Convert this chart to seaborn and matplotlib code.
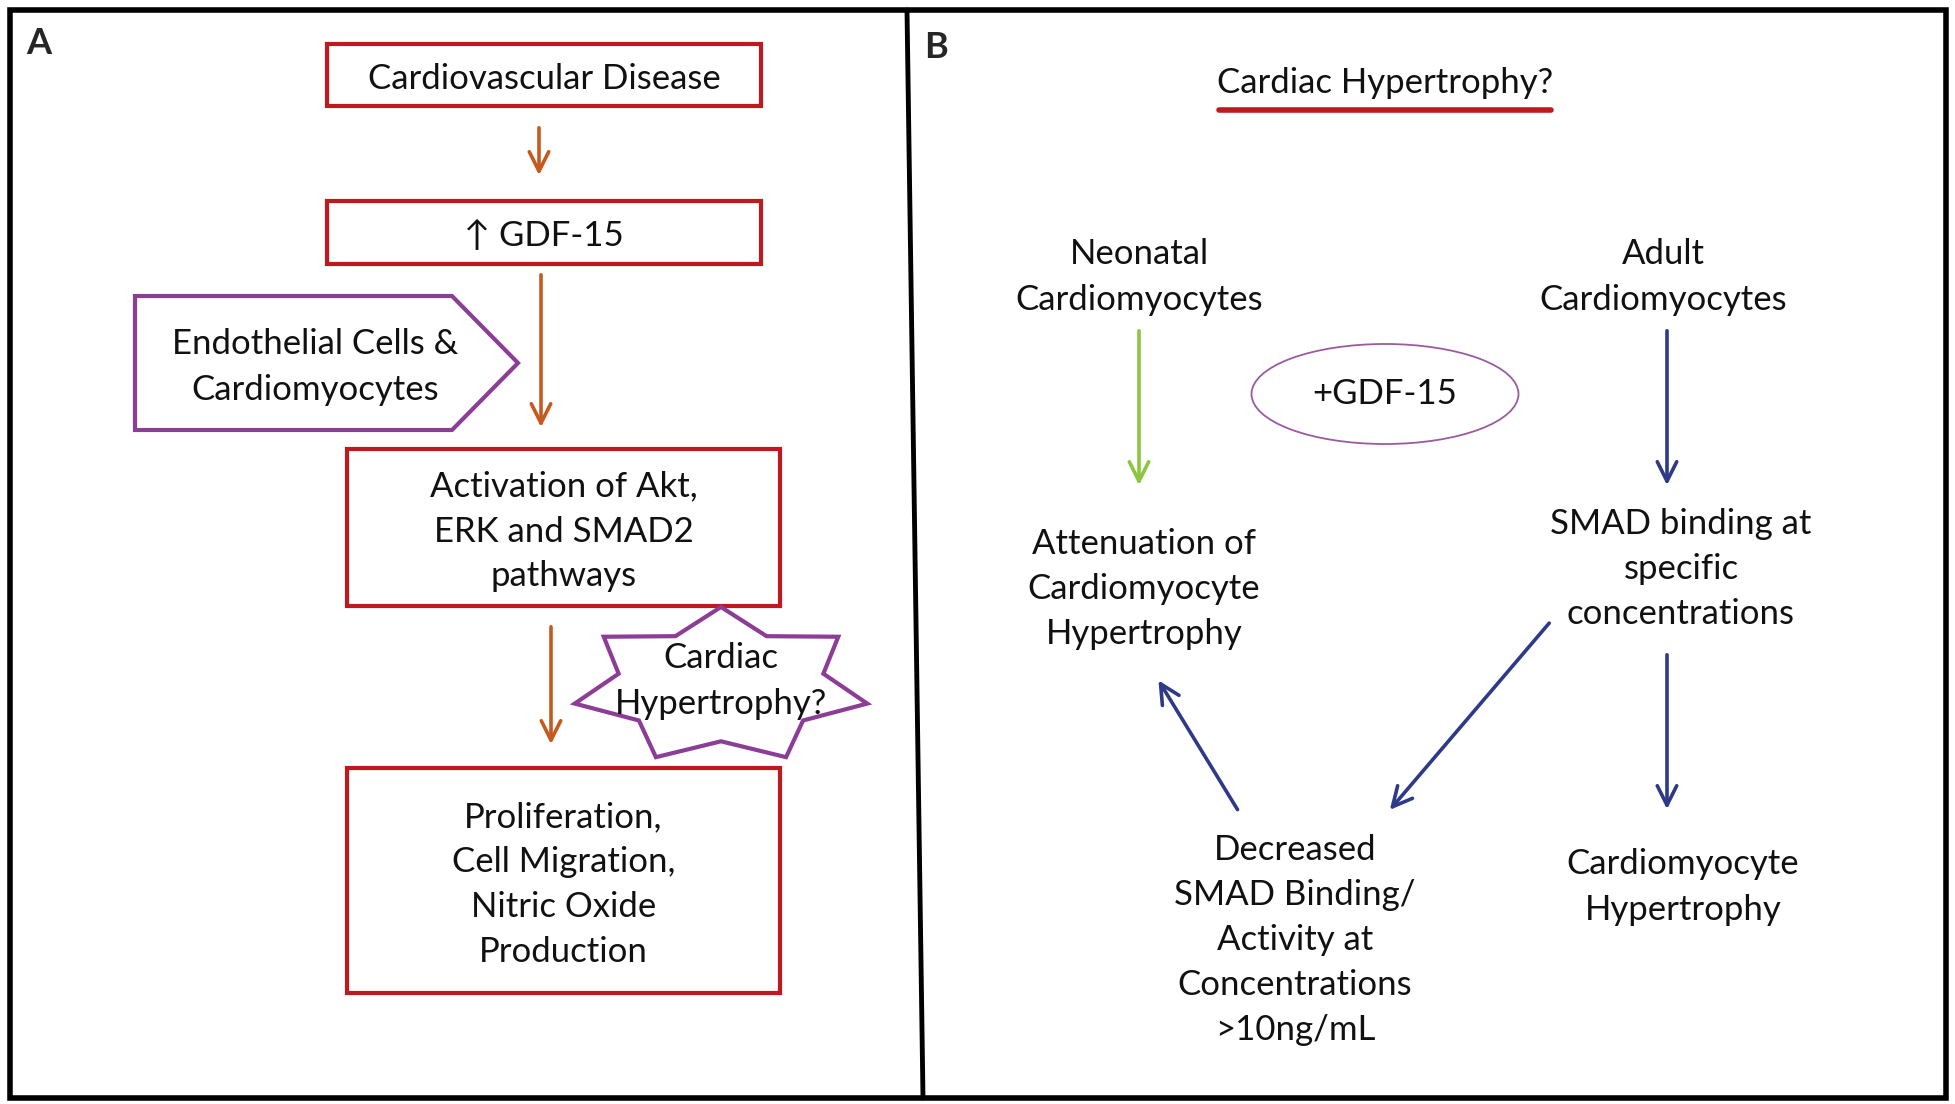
import numpy as np
import matplotlib
matplotlib.use("Agg")
import matplotlib.pyplot as plt
from matplotlib.patches import Rectangle, Polygon, Ellipse, FancyArrowPatch
import seaborn as sns

sns.set_theme(style="white")
plt.rcParams['font.family'] = ['Lato', 'DejaVu Sans']

# ---- texts ----
panel_labels = ["A", "B"]
a_box_texts = ["Cardiovascular Disease", "\u2191 GDF-15",
               "Activation of Akt,\nERK and SMAD2\npathways",
               "Proliferation,\nCell Migration,\nNitric Oxide\nProduction"]
a_pent_text = "Endothelial Cells &\nCardiomyocytes"
a_star_text = "Cardiac\nHypertrophy?"
b_title = "Cardiac Hypertrophy?"
b_ellipse_text = "+GDF-15"
b_node_texts = ["Neonatal\nCardiomyocytes", "Adult\nCardiomyocytes",
                "Attenuation of\nCardiomyocyte\nHypertrophy",
                "SMAD binding at\nspecific\nconcentrations",
                "Decreased\nSMAD Binding/\nActivity at\nConcentrations\n>10ng/mL",
                "Cardiomyocyte\nHypertrophy"]

# ---- layout (pixel coords, y down) ----
a_boxes = [(327, 44, 761, 106), (327, 201, 761, 264),
           (347, 449, 780, 606), (347, 768, 780, 993)]
a_arrows = [((539, 125), (539, 178)), ((541, 272), (541, 430)),
            ((551, 624), (551, 747))]
b_nodes = [(1139, 273), (1663, 273), (1144, 585), (1681, 565),
           (1295, 936), (1683, 883)]
b_arrows = [((1139, 328), (1139, 488), "#8cc63f"),
            ((1667, 328), (1667, 488), "#2e3a87"),
            ((1551, 621), (1388, 812), "#2e3a87"),
            ((1239, 812), (1157, 678), "#2e3a87"),
            ((1667, 652), (1667, 812), "#2e3a87")]

RED = "#c0181f"
ORANGE = "#c65a1e"
PURPLE = "#8c3d96"
INK = "#111111"
FS = 25
LS = 1.5
DY = 4  # small downward nudge so text looks optically centred

fig = plt.figure(figsize=(19.56, 11.04), dpi=100)
ax = fig.add_axes([0, 0, 1, 1])
ax.set_xlim(0, 1956)
ax.set_ylim(1104, 0)
ax.axis("off")

# outer frame and divider
ax.add_patch(Rectangle((10, 10), 1936, 1088, fill=False, ec="black", lw=4))
ax.plot([907, 923], [10, 1098], color="black", lw=3.5)

ax.text(26, 44, panel_labels[0], fontsize=26, fontweight="bold", va="center")
ax.text(924, 47, panel_labels[1], fontsize=26, fontweight="bold", va="center")

# panel A boxes
for (x0, y0, x1, y1), t in zip(a_boxes, a_box_texts):
    ax.add_patch(Rectangle((x0, y0), x1 - x0, y1 - y0, fill=False, ec=RED, lw=3))
    ax.text((x0 + x1) / 2, (y0 + y1) / 2 + DY, t, ha="center", va="center",
            fontsize=FS, linespacing=LS, color=INK)

for (p0, p1) in a_arrows:
    ax.add_patch(FancyArrowPatch(p0, p1, arrowstyle="->,head_length=14,head_width=7",
                                 color=ORANGE, lw=2.6, mutation_scale=1))

# pentagon
pent = [(135, 296), (452, 296), (518, 363), (452, 430), (135, 430)]
ax.add_patch(Polygon(pent, closed=True, fill=False, ec=PURPLE, lw=3))
ax.text(315, 363 + DY, a_pent_text, ha="center", va="center", fontsize=FS,
        linespacing=LS, color=INK)

# star (7 points)
cx, cy, rx, ry = 721, 686, 150, 79
pts = []
for k in range(14):
    ang = np.pi / 2 - k * np.pi / 7
    r = 1.0 if k % 2 == 0 else 0.7
    pts.append((cx + rx * r * np.cos(ang), cy - ry * r * np.sin(ang)))
ax.add_patch(Polygon(pts, closed=True, fc="white", ec=PURPLE, lw=3, zorder=3))
ax.text(cx, cy - 9 + DY, a_star_text, ha="center", va="center", fontsize=FS,
        linespacing=LS, color=INK, zorder=4)

# panel B
ax.text(1385, 79 + DY, b_title, ha="center", va="center", fontsize=FS, color=INK)
ax.plot([1219, 1551], [110, 110], color=RED, lw=4)
ax.add_patch(Ellipse((1385, 394), 267, 100, fill=False, ec="#9c5aa0", lw=1.3))
ax.text(1385, 390 + DY, b_ellipse_text, ha="center", va="center", fontsize=FS, color=INK)

for (x, y), t in zip(b_nodes, b_node_texts):
    ax.text(x, y + DY, t, ha="center", va="center", fontsize=FS, linespacing=LS,
            color=INK)

for p0, p1, c in b_arrows:
    ax.add_patch(FancyArrowPatch(p0, p1, arrowstyle="->,head_length=14,head_width=7",
                                 color=c, lw=2.6, mutation_scale=1))

fig.savefig("out.png", dpi=100, facecolor="white")
